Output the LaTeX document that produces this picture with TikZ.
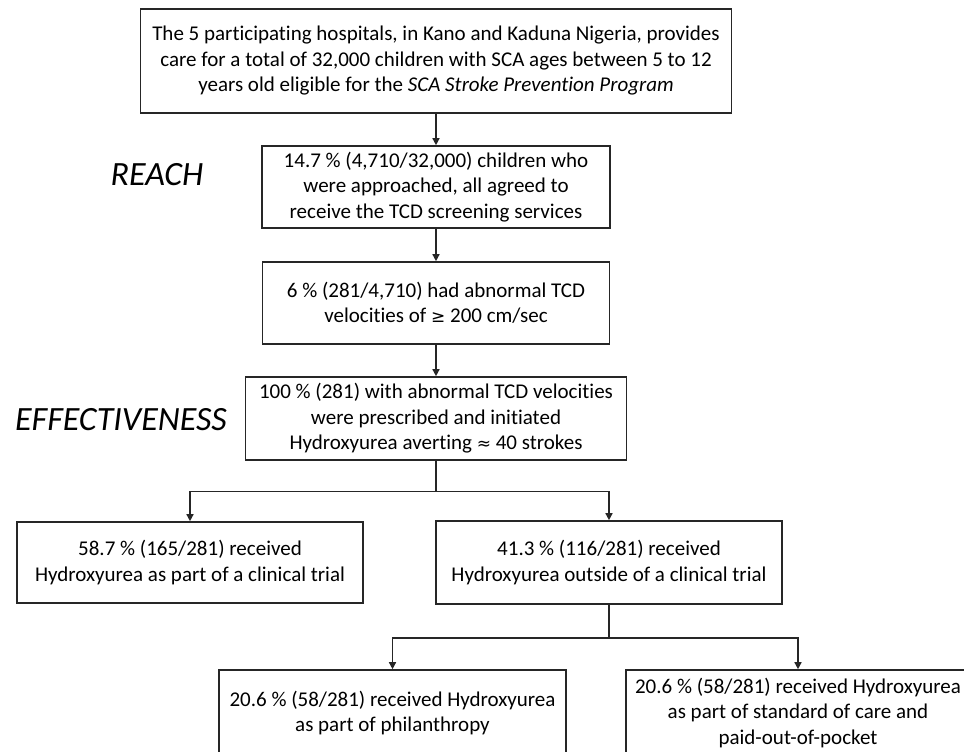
\documentclass[tikz,border=0pt]{standalone}
\usepackage{fontspec}
\setmainfont{Carlito}[Ligatures=NoCommon]
\newfontfamily\symfont{DejaVu Sans}
\usetikzlibrary{arrows.meta}
\begin{document}
\begin{tikzpicture}[x=1pt,y=-1pt,
  box/.style={draw=black!85,line width=1.6pt,align=center,inner sep=0pt,
    font=\fontsize{21}{25.5}\selectfont},
  conn/.style={line width=1.4pt,draw=black!85},
  arr/.style={conn,-{Triangle[length=7pt,width=7pt]}},
  stage/.style={font=\fontsize{34}{40}\selectfont\itshape}]
\useasboundingbox (0,0) rectangle (964,752);
\node[box,minimum width=591pt,minimum height=104pt] (b1) at (436,61)
  {The 5 participating hospitals, in Kano and Kaduna Nigeria, provides\\
   care for a total of 32,000 children with SCA ages between 5 to 12\\
   years old eligible for the \textit{SCA Stroke Prevention Program}};
\node[box,minimum width=348pt,minimum height=82pt] (b2) at (436,187)
  {14.7 \% (4,710/32,000) children who\\were approached, all agreed to\\receive the TCD screening services};
\node[box,minimum width=347pt,minimum height=82pt] (b3) at (436,303)
  {6 \% (281/4,710) had abnormal TCD\\velocities of {\symfont\fontsize{17}{25}\selectfont≥} 200 cm/sec};
\node[box,minimum width=381pt,minimum height=83pt] (b4) at (436,418.5)
  {100 \% (281) with abnormal TCD velocities\\were prescribed and initiated\\Hydroxyurea averting {\symfont\fontsize{17}{25}\selectfont≈} 40 strokes};
\node[box,minimum width=346pt,minimum height=81pt] (b5) at (190,562.5)
  {58.7 \% (165/281) received\\Hydroxyurea as part of a clinical trial};
\node[box,minimum width=346pt,minimum height=83pt] (b6) at (609,562.5)
  {41.3 \% (116/281) received\\Hydroxyurea outside of a clinical trial};
\node[box,minimum width=347pt,minimum height=86pt] (b7) at (392.5,713)
  {20.6 \% (58/281) received Hydroxyurea\\as part of philanthropy};
\node[box,minimum width=344pt,minimum height=86pt] (b8) at (798,713)
  {20.6 \% (58/281) received Hydroxyurea\\as part of standard of care and\\paid-out-of-pocket};
\node[stage] (reach) at (157,175) {REACH};
\node[stage] (eff) at (121,420) {EFFECTIVENESS};
\coordinate (j1) at ([yshift=-30.5pt]b4.south);
\coordinate (j2) at ([yshift=-33pt]b6.south);
\draw[arr] (b1) -- (b2);
\draw[arr] (b2) -- (b3);
\draw[arr] (b3) -- (b4);
\draw[conn] (b4.south) -- (j1);
\draw[arr] (j1) -| (b5.north);
\draw[arr] (j1) -| (b6.north);
\draw[conn] (b6.south) -- (j2);
\draw[arr] (j2) -| (b7.north);
\draw[arr] (j2) -| (b8.north);
\end{tikzpicture}
\end{document}
